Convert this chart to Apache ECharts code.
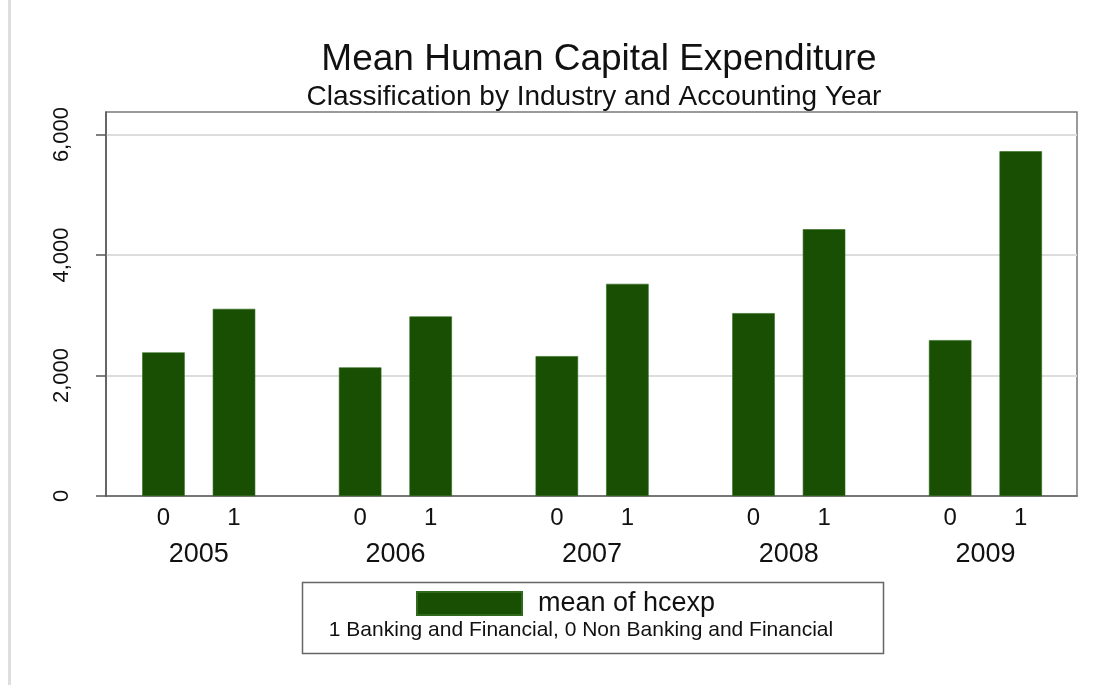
<!DOCTYPE html>
<html>
<head>
<meta charset="utf-8">
<script src="https://cdn.jsdelivr.net/npm/echarts@6/dist/echarts.min.js"></script>
<style>
html,body{margin:0;padding:0;background:#fff;}
#chart{width:1113px;height:685px;}
</style>
</head>
<body>
<div id="chart"></div>
<script>
// ---- data ----
const years = ['2005', '2006', '2007', '2008', '2009'];
const industryCodes = ['0', '1'];
const nonBanking = [2384, 2135, 2322, 3036, 2588];   // 0 Non Banking and Financial
const banking = [3107, 2981, 3522, 4429, 5723];      // 1 Banking and Financial
const yTicks = [0, 2000, 4000, 6000];
const yMax = 6375;
const seriesName = 'mean of hcexp';
const titleText = 'Mean Human Capital Expenditure';
const subtitleText = 'Classification by Industry and Accounting Year';
const noteText = '1 Banking and Financial, 0 Non Banking and Financial';

const FONT = '"Liberation Sans", Arial, Helvetica, sans-serif';
const GREEN = '#184f02';
const chart = echarts.init(document.getElementById('chart'), null, {renderer: 'canvas'});

const seriesData = [nonBanking, banking];

const option = {
  backgroundColor: '#ffffff',
  animation: false,
  textStyle: {fontFamily: FONT},
  title: [
    {text: titleText, left: 594, top: 36, textAlign: 'center',
     textStyle: {fontFamily: FONT, fontSize: 37, fontWeight: 'normal', color: '#111'}},
    {text: subtitleText, left: 589, top: 78, textAlign: 'center',
     textStyle: {fontFamily: FONT, fontSize: 28, fontWeight: 'normal', color: '#111'}}
  ],
  grid: [
    {left: 106, right: 36, top: 112, bottom: 189, show: true, borderColor: '#7a7a7a', borderWidth: 1.5, containLabel: false},
    {left: 100.4, right: 29.2, top: 112, bottom: 189, containLabel: false}
  ],
  legend: {
    data: [seriesName],
    left: 416, top: 590,
    itemWidth: 105, itemHeight: 23,
    icon: 'rect',
    padding: 0,
    textStyle: {fontFamily: FONT, fontSize: 27, color: '#111', padding: [0, 0, 0, 11]},
    selectedMode: false
  },
  xAxis: [
    {type: 'category', gridIndex: 0, data: years, show: true,
     axisLine: {show: true, lineStyle: {color: '#555', width: 1.5}},
     axisTick: {show: false}, axisLabel: {show: false}, splitLine: {show: false}},
    {type: 'category', gridIndex: 1, data: years,
     axisLine: {show: false}, axisTick: {show: false},
     axisLabel: {show: true, margin: 45, fontFamily: FONT, fontSize: 27, color: '#111'},
     splitLine: {show: false}}
  ],
  yAxis: [
    {type: 'value', gridIndex: 0, min: 0, max: yMax, interval: 2000,
     axisLine: {show: true, lineStyle: {color: '#555', width: 1.5}},
     axisTick: {show: true, length: 10, customValues: yTicks, lineStyle: {color: '#555', width: 1.5}},
     axisLabel: {show: true, rotate: 90, margin: 33, customValues: yTicks,
       fontFamily: FONT, fontSize: 22, color: '#111',
       formatter: v => yTicks.indexOf(v) >= 0 ? v.toLocaleString('en-US') : ''},
     splitLine: {show: true, lineStyle: {color: '#dddddd', width: 2}}},
    {type: 'value', gridIndex: 1, min: 0, max: yMax, show: false, splitLine: {show: false}}
  ],
  series: industryCodes.map((code, i) => ({
    type: 'bar',
    name: seriesName,
    xAxisIndex: 1, yAxisIndex: 1,
    data: seriesData[i],
    barWidth: 42.5,
    barGap: '66%',
    itemStyle: {color: GREEN, borderColor: '#2f6a1a', borderWidth: 0.6},
    label: {show: true, position: 'bottom', distance: 10,
      formatter: () => code, fontFamily: FONT, fontSize: 24, color: '#111'}
  })),
  graphic: [
    {type: 'rect', left: 8, top: 0, shape: {width: 3, height: 685}, style: {fill: '#dedede'}, silent: true},
    {type: 'rect', left: 300, top: 580, shape: {width: 581, height: 71},
     style: {fill: 'none', stroke: '#666', lineWidth: 1.5}, silent: true, z: -1},
    {type: 'text', x: 581, y: 630,
     style: {text: noteText, fontFamily: FONT, fontSize: 21, fill: '#111', textAlign: 'center', textVerticalAlign: 'middle'}}
  ]
};
chart.setOption(option);
</script>
</body>
</html>
